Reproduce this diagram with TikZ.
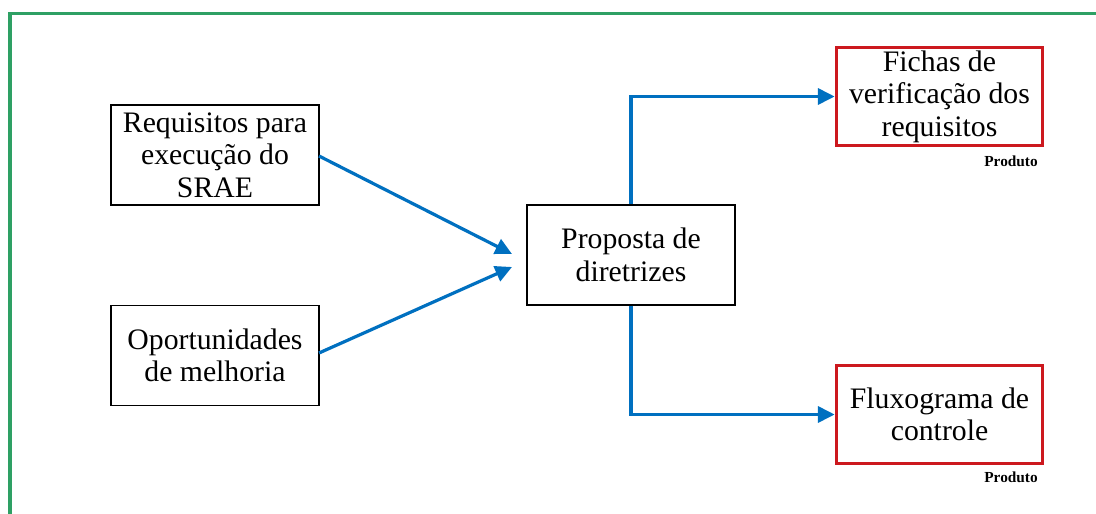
\documentclass[tikz,border=0pt]{standalone}
\usepackage{fontspec}
\setmainfont{Liberation Serif}
\usetikzlibrary{arrows.meta}
\definecolor{flowblue}{RGB}{0,112,192}
\definecolor{framegreen}{RGB}{46,160,100}
\definecolor{prodred}{RGB}{204,24,30}
\tikzset{
  box/.style={draw=black, line width=1pt, fill=white, align=center,
    minimum width=156pt, minimum height=75pt, inner sep=2pt,
    font=\fontsize{22.3}{24.3}\selectfont},
  prodbox/.style={box, draw=prodred, line width=2.3pt,
    minimum width=155pt, minimum height=74pt},
  tag/.style={font=\fontsize{11.5}{13}\selectfont\bfseries, inner sep=0pt},
  flow/.style={draw=flowblue, line width=2.4pt,
    -{Triangle[length=12.5pt,width=12pt]}},
}
\begin{document}
\begin{tikzpicture}[x=0.75pt, y=-0.75pt]
  \useasboundingbox (0,0) rectangle (1096,514);
  \fill[white] (0,0) rectangle (1096,514);

  % outer frame (open to the right and bottom)
  \draw[framegreen, line width=2.3pt] (10,514) -- (10,13.5) -- (1096,13.5);

  % inputs
  \node[box] (req) at (215,155) {Requisitos para\\execução do\\SRAE};
  \node[box] (opo) at (215,355.5) {Oportunidades\\de melhoria};

  % central proposal
  \node[box] (prop) at (631,255) {Proposta de\\diretrizes};

  % products
  \node[prodbox] (fichas) at (939.5,96.5) {Fichas de\\verificação dos\\requisitos};
  \node[prodbox] (fluxo) at (939.5,414.5) {Fluxograma de\\controle};
  \node[tag, anchor=north east] (p1) at (1038,156) {Produto};
  \node[tag, anchor=north east] (p2) at (1038,472) {Produto};

  % arrow end points in front of the proposal box
  \coordinate (in1) at (512,254);
  \coordinate (in2) at (512,267);
  \coordinate (req-out) at (319,156);
  \coordinate (opo-out) at (319,353);

  \draw[flow] (req-out) -- (in1);
  \draw[flow] (opo-out) -- (in2);
  \draw[flow] (prop.north) |- (fichas.west);
  \draw[flow] (prop.south) |- (fluxo.west);
\end{tikzpicture}
\end{document}
